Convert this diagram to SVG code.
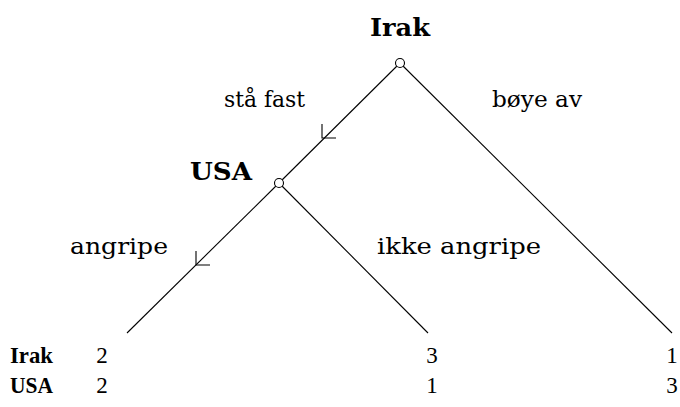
<svg xmlns="http://www.w3.org/2000/svg" width="680" height="407" viewBox="0 0 680 407">
  <style>
    .edge { stroke: #000; stroke-width: 1.1; fill: none; }
    .arrow { stroke: #000; stroke-width: 1.1; fill: none; }
    .node { fill: #fff; stroke: #000; stroke-width: 1.1; }
    .lbl { font-family: "DejaVu Serif", "Liberation Serif", serif; font-size: 23px; fill: #000; }
    .player { font-family: "DejaVu Serif", "Liberation Serif", serif; font-size: 24px; font-weight: bold; fill: #000; }
    .row { font-family: "Liberation Serif", "DejaVu Serif", serif; font-size: 23px; font-weight: bold; fill: #000; }
    .pay { font-family: "Liberation Serif", "DejaVu Serif", serif; font-size: 23px; fill: #000; text-anchor: middle; }
  </style>

  <g id="connectors">
    <line class="edge" x1="400" y1="63" x2="279" y2="183"/>
    <line class="edge" x1="400" y1="63" x2="672" y2="333"/>
    <line class="edge" x1="279" y1="183" x2="127" y2="333"/>
    <line class="edge" x1="279" y1="183" x2="428" y2="333"/>
    <!-- move markers on the chosen branches -->
    <path class="arrow" d="M322,124 V138 H336"/>
    <path class="arrow" d="M196,251 V265 H210"/>
  </g>

  <g id="node-irak">
    <text class="player" x="370" y="36" textLength="60" lengthAdjust="spacingAndGlyphs">Irak</text>
    <circle class="node" cx="400" cy="63" r="4.5"/>
  </g>

  <g id="node-usa">
    <text class="player" x="190" y="180" textLength="62" lengthAdjust="spacingAndGlyphs">USA</text>
    <circle class="node" cx="279" cy="183" r="4.5"/>
  </g>

  <g id="edge-labels">
    <text class="lbl" x="224" y="107" textLength="81" lengthAdjust="spacingAndGlyphs">stå fast</text>
    <text class="lbl" x="492" y="107" textLength="90" lengthAdjust="spacingAndGlyphs">bøye av</text>
    <text class="lbl" x="70" y="254" textLength="98" lengthAdjust="spacingAndGlyphs">angripe</text>
    <text class="lbl" x="377" y="254" textLength="164" lengthAdjust="spacingAndGlyphs">ikke angripe</text>
  </g>

  <g id="payoffs">
    <text class="row" x="10" y="363" textLength="43" lengthAdjust="spacingAndGlyphs">Irak</text>
    <text class="row" x="10" y="393" textLength="43" lengthAdjust="spacingAndGlyphs">USA</text>
    <text class="pay" x="102" y="363">2</text>
    <text class="pay" x="102" y="393">2</text>
    <text class="pay" x="432" y="363">3</text>
    <text class="pay" x="432" y="393">1</text>
    <text class="pay" x="672" y="363">1</text>
    <text class="pay" x="672" y="393">3</text>
  </g>
</svg>
